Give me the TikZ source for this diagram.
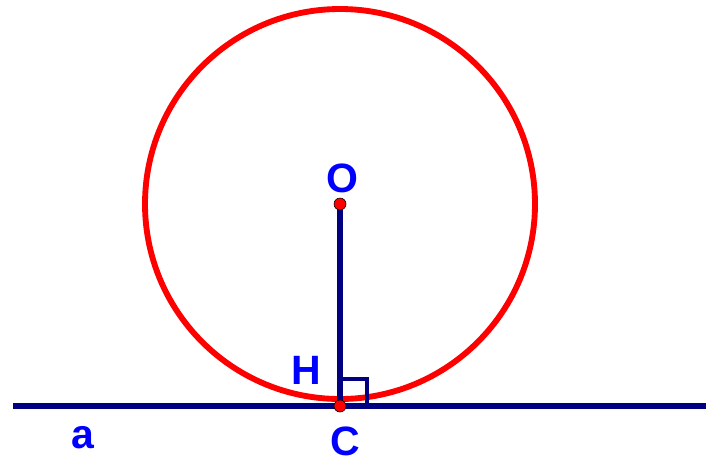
\documentclass[tikz,border=0pt]{standalone}
\usepackage{fontspec}
\setmainfont{Liberation Sans}
\usetikzlibrary{positioning, calc}
\definecolor{lineblue}{RGB}{0,0,128}
\definecolor{labelblue}{RGB}{0,0,255}

\begin{document}
\begin{tikzpicture}[
  x=0.03cm, y=-0.03cm,
  circ/.style = {draw=red, line width=5pt},
  seg/.style  = {draw=lineblue, line width=5.2pt},
  pt/.style   = {circle, fill=red, draw=black, line width=0.5pt, inner sep=0pt, minimum size=0.36cm},
  lbl/.style  = {text=labelblue, font=\fontsize{35}{35}\selectfont\bfseries, inner sep=0pt},
]
\useasboundingbox (0,0) rectangle (706,463);

% ── Points ──────────────────────────────────────────────────────────────────
\coordinate (O) at (340,204);
\coordinate (C) at (340,406);
\coordinate (aL) at (13,406);
\coordinate (aR) at (706,406);

% ── Circle ──────────────────────────────────────────────────────────────────
\draw[circ] (O) circle[radius=195];

% ── Line a, radius OC and right angle ──────────────────────────────────────
\draw[seg] (aL) -- (aR);
\draw[seg] (O) -- (C);
\draw[draw=lineblue, line width=4pt] ($(C)+(0,-27)$) -| ($(C)+(27,0)$);

\node[pt] (dO) at (O) {};
\node[pt] (dC) at (C) {};

% ── Labels ──────────────────────────────────────────────────────────────────
\node[lbl] (lO) at (342,178) {O};
\node[lbl] (lH) at (306,370) {H};
\node[lbl] (lC) at (345,441) {C};
\node[lbl] (la) at (83,438) {a};

\end{tikzpicture}
\end{document}
